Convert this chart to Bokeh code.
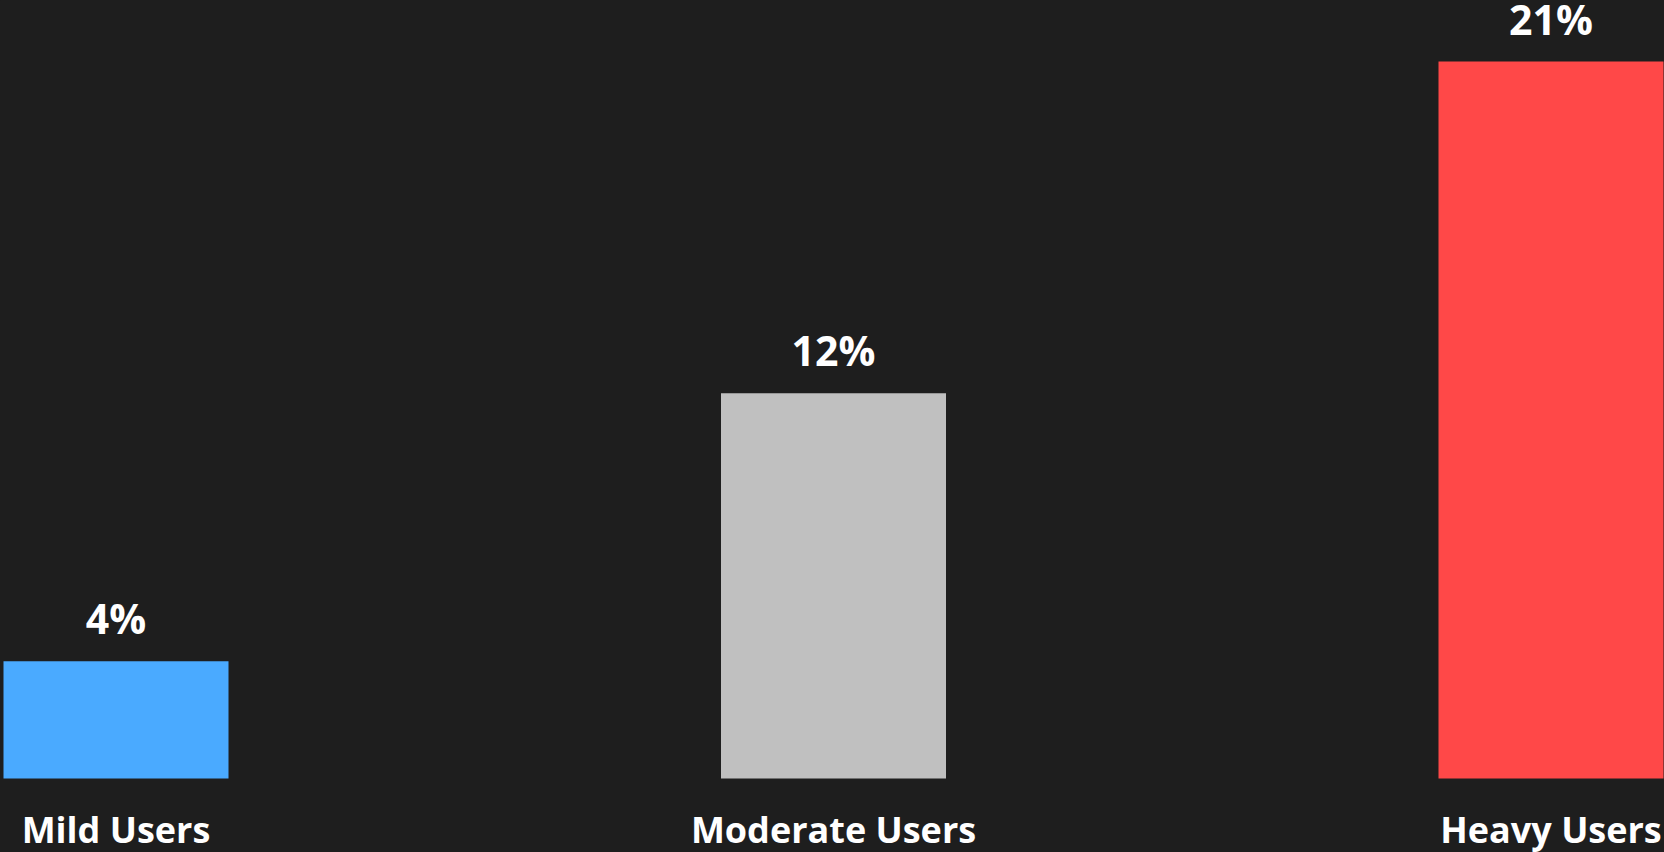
import numpy as np
from bokeh.plotting import figure
from bokeh.models import ColumnDataSource, Range1d
from bokeh.core.properties import value
from bokeh.embed import file_html
from bokeh.resources import INLINE

categories = ["Mild Users", "Moderate Users", "Heavy Users"]
shares = [3.5, 11.5, 21.4]
share_labels = ["4%", "12%", "21%"]
colors = ["#4aaaff", "#c0c0c0", "#ff4848"]

BG = "#1e1e1e"
W, H = 1664, 852
xpos = list(range(len(categories)))

src = ColumnDataSource(dict(x=xpos, top=shares, lab=share_labels, color=colors,
                            cat=categories, base=[0] * len(categories)))

px_per_cat = 717.5
x0 = -115.5 / px_per_cat
px_per_unit = 717.0 / 21.4
base_px = 778
p = figure(width=W, height=H, output_backend="svg", toolbar_location=None,
           x_range=Range1d(x0, x0 + W / px_per_cat),
           y_range=Range1d(-(H - base_px) / px_per_unit, base_px / px_per_unit),
           x_axis_location=None, y_axis_location=None,
           background_fill_color=BG, border_fill_color=BG,
           min_border=0)
p.outline_line_color = None
p.grid.visible = False

p.vbar(x="x", top="top", bottom=0, width=225 / px_per_cat, color="color",
       line_color=None, source=src)
p.text(x="x", y="top", text="lab", source=src, text_align="center",
       text_baseline="alphabetic", y_offset=-43, text_color="white",
       text_font=value("Open Sans"), text_font_style="bold",
       text_font_size="41px")
p.text(x="x", y="base", text="cat", source=src, text_align="center",
       text_baseline="alphabetic", y_offset=51, text_color="white",
       text_font=value("Open Sans"), text_font_style="bold",
       text_font_size="36px")

html = file_html(p, INLINE)
html = html.replace("<head>", "<head><style>html,body{margin:0;padding:0;background:%s;overflow:hidden;}</style>" % BG, 1)
open("out.html", "w").write(html)
